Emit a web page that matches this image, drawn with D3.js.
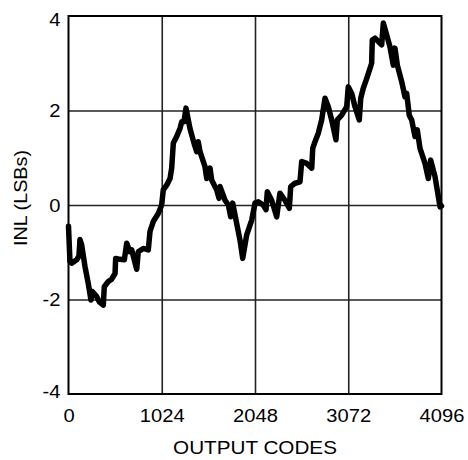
<!DOCTYPE html>
<html>
<head>
<meta charset="utf-8">
<script src="https://cdn.jsdelivr.net/npm/d3@7"></script>
<style>
  html, body { margin: 0; padding: 0; background: #fff; }
  svg { display: block; }
  text { font-family: "Liberation Sans", Arial, Helvetica, sans-serif; fill: #000; }
</style>
</head>
<body>
<svg id="chart" width="468" height="460"></svg>
<script>
// ---- data ----
const xTicks = [0, 1024, 2048, 3072, 4096];
const yTicks = [-4, -2, 0, 2, 4];
const xLabel = "OUTPUT CODES";
const yLabel = "INL (LSBs)";
const codes = [0, 16, 35, 90, 115, 126, 145, 181, 217, 247, 261, 310, 338, 382, 393, 437, 474, 511, 518, 566,
  613, 639, 675, 694, 749, 766, 821, 876, 895, 931, 986, 1023, 1041, 1078, 1115, 1133, 1151, 1188, 1224, 1243,
  1268, 1290, 1334, 1378, 1408, 1425, 1444, 1499, 1518, 1554, 1572, 1627, 1653, 1664, 1719, 1755, 1781, 1803,
  1847, 1883, 1913, 1957, 2012, 2048, 2084, 2139, 2169, 2183, 2231, 2286, 2322, 2377, 2425, 2440, 2487, 2542,
  2561, 2616, 2671, 2682, 2707, 2743, 2780, 2817, 2853, 2890, 2937, 2952, 3000, 3055, 3072, 3110, 3146, 3193,
  3209, 3237, 3275, 3311, 3329, 3336, 3366, 3402, 3439, 3457, 3494, 3530, 3567, 3585, 3611, 3659, 3695, 3714,
  3742, 3769, 3805, 3830, 3860, 3915, 3951, 3977, 4025, 4080, 4096];
const inl = [-0.45, -1.2, -1.23, -1.16, -1.08, -0.73, -0.85, -1.3, -1.66, -2.01, -1.83, -1.94, -2.05, -2.12, -1.73, -1.62, -1.57, -1.45, -1.13, -1.15,
  -1.16, -0.81, -0.99, -0.95, -1.36, -0.99, -0.92, -0.95, -0.56, -0.35, -0.18, 0.0, 0.32, 0.42, 0.56, 0.78, 1.31, 1.45, 1.62, 1.76,
  1.76, 2.05, 1.62, 1.31, 1.13, 1.34, 1.13, 0.81, 0.56, 0.78, 0.53, 0.32, 0.14, 0.39, 0.1, 0.0, -0.25, 0.04,
  -0.39, -0.74, -1.13, -0.63, -0.32, 0.04, 0.07, 0.0, -0.1, 0.28, 0.1, -0.25, 0.25, 0.1, -0.07, 0.39, 0.46, 0.49,
  0.92, 0.88, 0.78, 1.2, 1.34, 1.52, 1.8, 2.26, 2.08, 1.8, 1.38, 1.8, 1.9, 2.08, 2.5, 2.36, 2.08, 1.8,
  2.26, 2.47, 2.68, 2.89, 3.0, 3.49, 3.53, 3.46, 3.39, 3.85, 3.6, 3.35, 2.96, 3.32, 2.96, 2.61, 2.29, 2.36,
  1.9, 1.8, 1.45, 1.59, 1.2, 0.88, 0.56, 0.95, 0.6, -0.04, -0.02];

// ---- layout ----
const svg = d3.select("#chart");
const pL = 68.5, pR = 441.5, pT = 16, pB = 394;
const x = d3.scaleLinear().domain([0, 4096]).range([pL, pR]);
const y = d3.scaleLinear().domain([-4, 4]).range([pB, pT]);
const sx = 1.12; // horizontal stretch of the lettering

// gridlines
const gx = svg.append("g").attr("transform", `translate(0,${pB})`)
  .call(d3.axisBottom(x).tickValues(xTicks.slice(1, -1)).tickSize(-(pB - pT)).tickFormat(""));
const gy = svg.append("g").attr("transform", `translate(${pL},0)`)
  .call(d3.axisLeft(y).tickValues(yTicks.slice(1, -1)).tickSize(-(pR - pL)).tickFormat(""));
[gx, gy].forEach(g => {
  g.select(".domain").remove();
  g.selectAll("line").attr("stroke", "#222").attr("stroke-width", 1.6);
});

// frame
svg.append("rect").attr("x", pL).attr("y", pT)
  .attr("width", pR - pL).attr("height", pB - pT)
  .attr("fill", "none").attr("stroke", "#000").attr("stroke-width", 2);

// tick labels
const ax = svg.append("g").attr("transform", `translate(0,${pB})`)
  .call(d3.axisBottom(x).tickValues(xTicks).tickSize(0).tickPadding(15).tickFormat(d3.format("d")));
const ay = svg.append("g").attr("transform", `translate(${pL},0)`)
  .call(d3.axisLeft(y).tickValues(yTicks).tickSize(0).tickPadding(8).tickFormat(d => d < 0 ? "-" + Math.abs(d) : d));
[ax, ay].forEach(g => {
  g.select(".domain").remove();
  g.selectAll("text").attr("font-size", 18)
    .style("font-family", '"Liberation Sans", Arial, sans-serif').attr("fill", "#000")
    .attr("transform", `scale(${sx},1)`);
});
ay.selectAll("text").attr("x", -8 / sx).attr("dy", "0.36em");
ay.selectAll(".tick").filter(d => d === 4).select("text").attr("dy", "0.5em");
ay.selectAll(".tick").filter(d => d === -4).select("text").attr("dy", "0.2em");

// axis titles
svg.append("text").attr("transform", `translate(255,454) scale(1.15,1)`)
  .attr("text-anchor", "middle").attr("font-size", 18).text(xLabel);
svg.append("text").attr("transform", `translate(26.5,198) rotate(-90) scale(1.1,1)`)
  .attr("text-anchor", "middle").attr("font-size", 18).text(yLabel);

// INL curve
const line = d3.line().x((d, i) => x(codes[i])).y(d => y(d));
svg.append("path").datum(inl)
  .attr("d", line)
  .attr("fill", "none").attr("stroke", "#000").attr("stroke-width", 5.5)
  .attr("stroke-linejoin", "round").attr("stroke-linecap", "round");
</script>
</body>
</html>
